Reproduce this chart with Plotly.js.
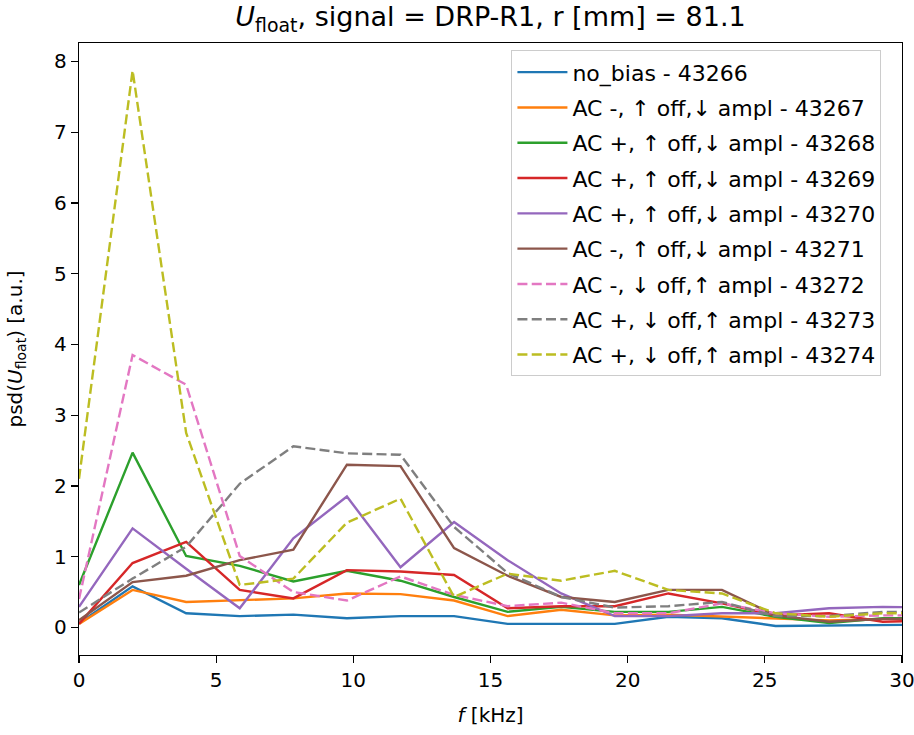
<!DOCTYPE html>
<html>
<head>
<meta charset="utf-8">
<script src="https://cdn.plot.ly/plotly-3.0.1.min.js"></script>
<style>html,body{margin:0;padding:0;background:#fff;}</style>
</head>
<body>
<div id="chart" style="width:914px;height:735px;"></div>
<script>
// frequency bins (kHz)
const freq = [0, 1.953, 3.906, 5.859, 7.813, 9.766, 11.719, 13.672, 15.625, 17.578, 19.531, 21.484, 23.438, 25.391, 27.344, 29.297, 31.25];

const names = [
  "no_bias - 43266",
  "AC -, \u2191 off,\u2193 ampl - 43267",
  "AC +, \u2191 off,\u2193 ampl - 43268",
  "AC +, \u2191 off,\u2193 ampl - 43269",
  "AC +, \u2191 off,\u2193 ampl - 43270",
  "AC -, \u2191 off,\u2193 ampl - 43271",
  "AC -, \u2193 off,\u2191 ampl - 43272",
  "AC +, \u2193 off,\u2191 ampl - 43273",
  "AC +, \u2193 off,\u2191 ampl - 43274"
];

const s43266 = [0.06, 0.58, 0.20, 0.16, 0.18, 0.13, 0.16, 0.16, 0.05, 0.05, 0.05, 0.15, 0.13, 0.02, 0.03, 0.03, 0.04];
const s43267 = [0.05, 0.53, 0.36, 0.39, 0.41, 0.48, 0.47, 0.38, 0.16, 0.25, 0.17, 0.18, 0.15, 0.12, 0.10, 0.12, 0.12];
const s43268 = [0.60, 2.47, 1.01, 0.87, 0.65, 0.80, 0.66, 0.43, 0.22, 0.29, 0.22, 0.22, 0.29, 0.15, 0.06, 0.13, 0.13];
const s43269 = [0.05, 0.91, 1.21, 0.53, 0.41, 0.81, 0.79, 0.74, 0.27, 0.30, 0.30, 0.48, 0.34, 0.17, 0.20, 0.08, 0.10];
const s43270 = [0.29, 1.40, 0.83, 0.27, 1.26, 1.85, 0.85, 1.49, 0.95, 0.48, 0.16, 0.16, 0.20, 0.20, 0.27, 0.29, 0.28];
const s43271 = [0.10, 0.64, 0.73, 0.95, 1.10, 2.30, 2.28, 1.12, 0.73, 0.43, 0.36, 0.53, 0.53, 0.17, 0.08, 0.12, 0.12];
const s43272 = [0.40, 3.85, 3.43, 1.01, 0.50, 0.38, 0.72, 0.46, 0.30, 0.35, 0.20, 0.20, 0.34, 0.20, 0.15, 0.17, 0.17];
const s43273 = [0.21, 0.69, 1.14, 2.03, 2.56, 2.46, 2.44, 1.42, 0.77, 0.43, 0.28, 0.30, 0.36, 0.16, 0.16, 0.22, 0.22];
const s43274 = [2.10, 7.87, 2.75, 0.60, 0.69, 1.48, 1.82, 0.43, 0.76, 0.66, 0.80, 0.53, 0.48, 0.20, 0.15, 0.20, 0.20];

const series = [s43266, s43267, s43268, s43269, s43270, s43271, s43272, s43273, s43274];
const colors = ["#1f77b4", "#ff7f0e", "#2ca02c", "#d62728", "#9467bd", "#8c564b", "#e377c2", "#7f7f7f", "#bcbd22"];
const dashes = ["solid", "solid", "solid", "solid", "solid", "solid", "10px,4.3px", "10px,4.3px", "10px,4.3px"];

const traces = series.map((ys, i) => ({
  x: freq,
  y: ys,
  type: "scatter",
  mode: "lines",
  name: names[i],
  legendgroup: "g" + i,
  line: {color: colors[i], width: 2.4, dash: dashes[i]}
}));

const font = "DejaVu Sans, sans-serif";
const layout = {
  width: 914,
  height: 735,
  margin: {l: 79, r: 12, t: 43, b: 80},
  paper_bgcolor: "#fff",
  plot_bgcolor: "#fff",
  font: {family: font, size: 20, color: "#000"},
  title: {
    text: "<i>U</i><sub>float</sub>, signal = DRP-R1, r [mm] = 81.1",
    font: {family: font, size: 27, color: "#000"},
    x: 0.5, xref: "paper", xanchor: "center",
    y: 0.977, yref: "container", yanchor: "middle"
  },
  xaxis: {
    range: [0, 30],
    tickvals: [0, 5, 10, 15, 20, 25, 30],
    ticks: "outside", ticklen: 7, tickwidth: 1.3, tickcolor: "#000",
    ticklabeloverflow: "allow",
    showline: true, linecolor: "#000", linewidth: 1.3, mirror: true,
    showgrid: false, zeroline: false,
    tickfont: {family: font, size: 20, color: "#000"},
    title: {text: "<i>f</i> [kHz]", font: {family: font, size: 20, color: "#000"}, standoff: 16}
  },
  yaxis: {
    range: [-0.39, 8.26],
    tickvals: [0, 1, 2, 3, 4, 5, 6, 7, 8],
    ticks: "outside", ticklen: 7, tickwidth: 1.3, tickcolor: "#000",
    showline: true, linecolor: "#000", linewidth: 1.3, mirror: true,
    showgrid: false, zeroline: false,
    tickfont: {family: font, size: 20, color: "#000"},
    title: {text: "psd(<i>U</i><sub>float</sub>) [a.u.]", font: {family: font, size: 20, color: "#000"}, standoff: 26}
  },
  showlegend: true,
  legend: {
    x: 0.975, xanchor: "right", xref: "paper",
    y: 0.988, yanchor: "top", yref: "paper",
    bgcolor: "rgba(255,255,255,0.8)",
    bordercolor: "#cccccc", borderwidth: 1,
    font: {family: font, size: 22, color: "#000"},
    tracegroupgap: 3.7,
    itemwidth: 50,
    traceorder: "grouped"
  }
};

Plotly.newPlot("chart", traces, layout, {displayModeBar: false, staticPlot: true});
</script>
</body>
</html>
